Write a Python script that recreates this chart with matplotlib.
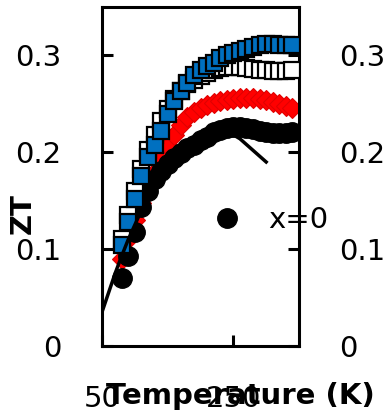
import matplotlib
matplotlib.use("Agg")
import matplotlib.pyplot as plt
import numpy as np

plt.rcParams['font.family'] = ['DejaVu Sans']

# measurement temperatures (K), same grid for every sample
temps = [80, 90, 100, 110, 120, 130, 140, 150, 160, 170, 180, 190, 200, 210,
         220, 230, 240, 250, 260, 270, 280, 290, 300, 310, 320, 330, 340]

ztBlue = [0.104, 0.128, 0.152, 0.176, 0.195, 0.208, 0.222, 0.240, 0.253, 0.263,
          0.272, 0.280, 0.285, 0.289, 0.292, 0.297, 0.300, 0.303, 0.305, 0.307,
          0.309, 0.311, 0.312, 0.312, 0.311, 0.311, 0.311]

ztOpen = [0.110, 0.135, 0.160, 0.183, 0.202, 0.218, 0.232, 0.245, 0.255, 0.263,
          0.270, 0.275, 0.279, 0.282, 0.285, 0.287, 0.288, 0.288, 0.288, 0.287,
          0.286, 0.285, 0.285, 0.284, 0.284, 0.284, 0.285]

ztRed = [0.090, 0.110, 0.130, 0.148, 0.165, 0.180, 0.194, 0.207, 0.218, 0.228,
         0.236, 0.242, 0.246, 0.249, 0.251, 0.253, 0.254, 0.255, 0.256, 0.256,
         0.256, 0.255, 0.254, 0.252, 0.250, 0.248, 0.246]

ztBlack = [0.070, 0.093, 0.118, 0.143, 0.160, 0.172, 0.181, 0.188, 0.194, 0.199,
           0.204, 0.208, 0.213, 0.216, 0.221, 0.223, 0.225, 0.226, 0.226, 0.225,
           0.224, 0.222, 0.221, 0.220, 0.220, 0.220, 0.221]

# model curve
lineT = [50, 60, 70, 80, 90, 100, 110, 120, 130, 140, 150, 160, 170, 180,
         190, 200, 210, 220, 230, 240, 250, 260, 270, 280, 290, 300]
lineZT = [0.035, 0.055, 0.075, 0.093, 0.110, 0.125, 0.140, 0.152, 0.163, 0.173,
          0.182, 0.190, 0.197, 0.203, 0.208, 0.212, 0.215, 0.217, 0.218, 0.218,
          0.218, 0.214, 0.208, 0.202, 0.196, 0.190]

yTicks = [0, 0.1, 0.2, 0.3]
yTickLabels = ['0', '0.1', '0.2', '0.3']
xTicks = [50, 250]
xTickLabels = ['50', '250']


def drawSeries(ax):
  ax.plot(temps, ztRed, 'D', color='#FF0000', markeredgecolor='#E00000',
          markersize=10, markeredgewidth=0.8, zorder=2)
  ax.plot(temps, ztBlack, 'o', color='black', markersize=14, zorder=3,
          label='x=0')
  ax.plot(temps, ztOpen, 's', markerfacecolor='white', markeredgecolor='black',
          markersize=11, markeredgewidth=1.6, zorder=4)
  ax.plot(temps, ztBlue, 's', markerfacecolor='#0070C0',
          markeredgecolor='black', markersize=11, markeredgewidth=1.6, zorder=5)
  ax.plot(lineT, lineZT, '-', color='black', linewidth=2.5, zorder=6)


def styleAxes(ax):
  ax.set_xlim(50, 350)
  ax.set_ylim(0, 0.35)
  ax.set_xticks(xTicks)
  ax.set_xticklabels(xTickLabels)
  ax.set_yticks(yTicks)
  ax.set_yticklabels(yTickLabels)
  for s in ax.spines.values():
    s.set_linewidth(2.2)
  ax.tick_params(axis='y', direction='in', length=8, width=2.2, pad=29,
                 labelsize=21, left=True, right=True, labelright=True)
  ax.tick_params(axis='x', direction='in', length=8, width=2.2, pad=28,
                 labelsize=21)
  ax.set_xlabel('Temperature (K)', fontsize=21, fontweight='bold', va='center')
  ax.xaxis.set_label_coords(0.70, -0.147)
  ax.set_ylabel('ZT', fontsize=21, fontweight='bold', va='center', ha='center')
  ax.yaxis.set_label_coords(-0.40, 0.39)


if __name__ == "__main__":
  fig = plt.figure(figsize=(3.87, 4.19), dpi=100)
  ax = fig.add_axes([102/387, 73/419, 197/387, 339/419])
  drawSeries(ax)
  styleAxes(ax)
  ax.legend(loc='center left', bbox_to_anchor=(0.563, 0.372), frameon=False,
            fontsize=21, handlelength=1.0, handletextpad=0.9, borderpad=0,
            borderaxespad=0, markerscale=1.0)
  fig.savefig('out.png', dpi=100)
